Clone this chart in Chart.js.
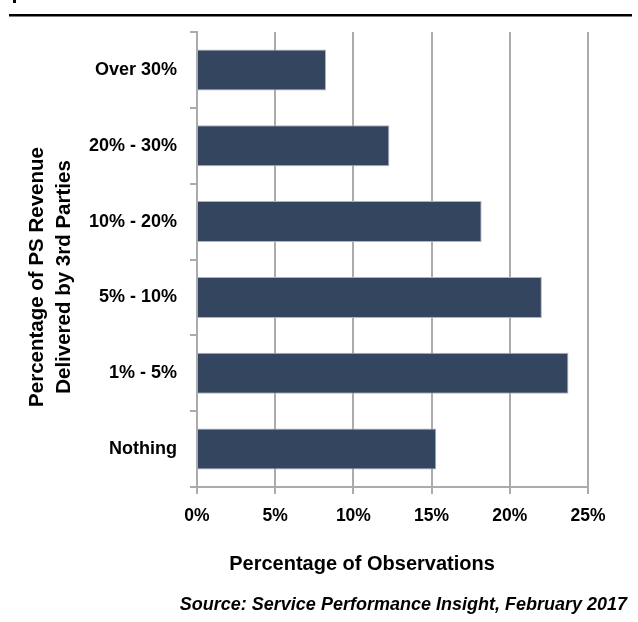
<!DOCTYPE html>
<html>
<head>
<meta charset="utf-8">
<title>PS Revenue Delivered by 3rd Parties</title>
<script src="https://cdn.jsdelivr.net/npm/chart.js@4.4.1/dist/chart.umd.min.js"></script>
<style>
  html, body { margin: 0; padding: 0; background: #ffffff; }
  #wrap { position: relative; width: 638px; height: 622px; }
</style>
</head>
<body>
<div id="wrap"><canvas id="revenueChart"></canvas></div>
<script>
// Share of observations by portion of PS revenue delivered by 3rd parties
const categories = ['Over 30%', '20% - 30%', '10% - 20%', '5% - 10%', '1% - 5%', 'Nothing'];
const observations = [8.25, 12.3, 18.2, 22.05, 23.75, 15.3];
const xTicks = [0, 5, 10, 15, 20, 25];

const yTitle = ['Percentage of PS Revenue', 'Delivered by 3rd Parties'];
const xTitle = 'Percentage of Observations';
const sourceNote = 'Source: Service Performance Insight, February 2017';

const FONT = "'Liberation Sans', Arial, sans-serif";
const GRID = '#ababab';

// header rule, axis titles and source line drawn around the plot
const frameText = {
    id: 'frameText',
    afterDraw(chart) {
        const ctx = chart.ctx;
        ctx.save();
        ctx.fillStyle = '#000';
        ctx.fillRect(13, 0, 3, 3);
        ctx.fillRect(9, 14, 623, 2.5);

        ctx.font = 'bold 20px ' + FONT;
        ctx.textAlign = 'center';
        ctx.textBaseline = 'alphabetic';
        ctx.fillText(xTitle, 362, 570);

        ctx.save();
        ctx.translate(0, 277);
        ctx.rotate(-Math.PI / 2);
        ctx.font = 'bold 20.5px ' + FONT;
        ctx.fillText(yTitle[0], 0, 43);
        ctx.fillText(yTitle[1], 0, 70);
        ctx.restore();

        ctx.font = 'italic bold 18px ' + FONT;
        ctx.textAlign = 'right';
        ctx.fillText(sourceNote, 627, 610);
        ctx.restore();
    }
};

new Chart(document.getElementById('revenueChart'), {
    type: 'bar',
    data: {
        labels: categories,
        datasets: [{
            data: observations,
            backgroundColor: '#34465f',
            borderColor: '#aab4c4',
            borderWidth: 1,
            barPercentage: 0.54,
            categoryPercentage: 1.0
        }]
    },
    options: {
        indexAxis: 'y',
        responsive: true,
        maintainAspectRatio: false,
        animation: false,
        layout: { padding: { top: 32, right: 50, left: 0, bottom: 0 } },
        plugins: {
            legend: { display: false },
            tooltip: { enabled: false }
        },
        scales: {
            x: {
                min: 0,
                max: 25,
                afterFit(scale) { scale.height = 622 - 487; },
                afterBuildTicks(scale) { scale.ticks = xTicks.map(v => ({ value: v })); },
                grid: { color: GRID, lineWidth: 2, tickLength: 7 },
                border: { color: GRID, width: 2 },
                ticks: {
                    padding: 12,
                    color: '#000',
                    font: { family: FONT, size: 17.5, weight: 'bold' },
                    callback: v => v + '%'
                }
            },
            y: {
                afterFit(scale) { scale.width = 197; },
                grid: { drawOnChartArea: false, color: GRID, lineWidth: 2, tickLength: 7 },
                border: { color: GRID, width: 2 },
                ticks: {
                    padding: 13,
                    color: '#000',
                    font: { family: FONT, size: 18, weight: 'bold' }
                }
            }
        }
    },
    plugins: [frameText]
});
</script>
</body>
</html>
